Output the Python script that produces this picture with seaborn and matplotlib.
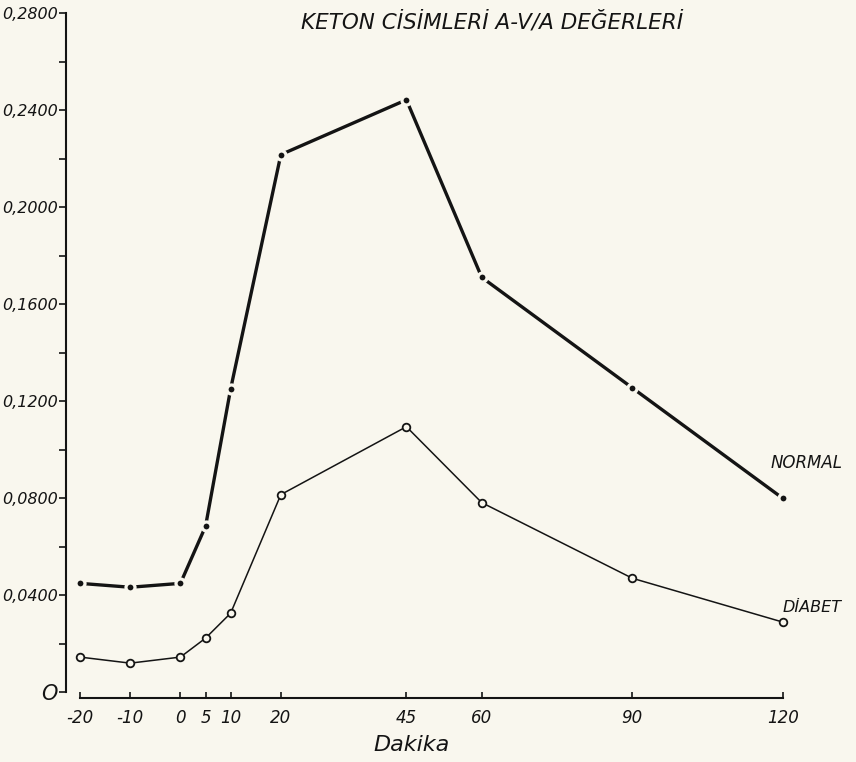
import numpy as np
import pandas as pd
import matplotlib
matplotlib.use('Agg')
import matplotlib.pyplot as plt
import seaborn as sns

# data
minutes = [-20, -10, 0, 5, 10, 20, 45, 60, 90, 120]
normal = [0.0448, 0.0432, 0.0448, 0.0683, 0.1250, 0.2216, 0.2442, 0.1710, 0.1254, 0.0798]
diabet = [0.0144, 0.0119, 0.0144, 0.0222, 0.0325, 0.0814, 0.1094, 0.0781, 0.0469, 0.0288]
y_ticks = [0.0, 0.04, 0.08, 0.12, 0.16, 0.20, 0.24, 0.28]
y_labels = ['O', '0,0400', '0,0800', '0,1200', '0,1600', '0,2000', '0,2400', '0,2800']

paper = '#f9f7ee'
ink = '#141414'

sns.set_theme(style='ticks')
plt.rcParams['font.family'] = ['DejaVu Sans']
plt.rcParams['font.style'] = 'italic'

fig = plt.figure(figsize=(8.56, 7.62), dpi=100, facecolor=paper)
# axes placed so the y axis sits at x=66px and runs from y=692px (0) to y=13px (0.28)
ax = fig.add_axes([66 / 856, 70 / 762, (800 - 66) / 856, (692 - 13) / 762])
ax.set_facecolor(paper)

px_per_min = (783 - 80) / 140
ax.set_xlim(-20 - 14 / px_per_min, 120 + 17 / px_per_min)
ax.set_ylim(0, 0.28)

df = pd.DataFrame({'Dakika': minutes, 'normal': normal, 'diabet': diabet})

sns.lineplot(data=df, x='Dakika', y='normal', ax=ax, color=ink, linewidth=2.4,
             marker='o', markersize=6.5, markerfacecolor=ink,
             markeredgecolor=paper, markeredgewidth=2.3)
sns.lineplot(data=df, x='Dakika', y='diabet', ax=ax, color=ink, linewidth=1.1,
             marker='o', markersize=5.5, markerfacecolor=paper,
             markeredgecolor=ink, markeredgewidth=1.3)

# spines like the drawing: y axis full, x axis only from -20 to 120
for s in ['top', 'right']:
    ax.spines[s].set_visible(False)
ax.spines['left'].set_color(ink)
ax.spines['left'].set_linewidth(1.5)
ax.spines['bottom'].set_color(ink)
ax.spines['bottom'].set_linewidth(1.5)
ax.spines['bottom'].set_bounds(-20, 120)
ax.spines['bottom'].set_position(('outward', 4))

ax.set_xticks(minutes)
ax.set_xticklabels([str(m) for m in minutes], fontsize=12, style='italic', color=ink)
ax.tick_params(axis='x', direction='in', length=4, width=1.2, color=ink, pad=8)

ax.set_yticks(y_ticks)
ax.set_yticklabels(y_labels, fontsize=11.5, style='italic', color=ink)
ax.set_yticks(np.arange(0.02, 0.28, 0.04), minor=True)
ax.tick_params(axis='y', which='major', direction='out', length=5, width=1.2, color=ink, pad=1)
ax.tick_params(axis='y', which='minor', direction='out', length=5, width=1.2, color=ink)
ax.get_yticklabels()[0].set_fontsize(15)

ax.set_xlabel('')
ax.set_ylabel('')
fig.text(412 / 856, 1 - 745 / 762, 'Dakika', fontsize=16, style='italic',
         color=ink, ha='center', va='center')

ax.text(117.5, 0.0946, 'NORMAL', fontsize=12, style='italic', color=ink, va='center')
ax.text(120, 0.035, 'DİABET', fontsize=11.5, style='italic', color=ink, va='center')

fig.text(492 / 856, 1 - 22 / 762, 'KETON CİSİMLERİ A-V/A DEĞERLERİ',
         fontsize=15.5, style='italic', color=ink, ha='center', va='center')

fig.savefig('out.png', dpi=100, facecolor=paper)
